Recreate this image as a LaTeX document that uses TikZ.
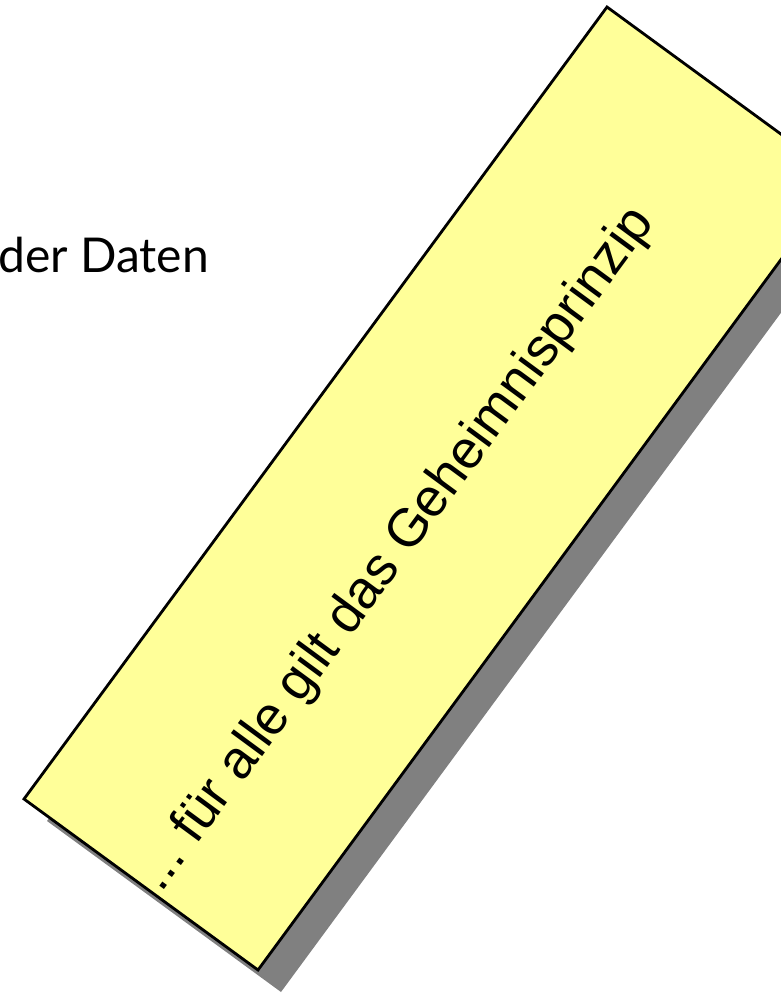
\documentclass[tikz,border=0pt]{standalone}
\usepackage{fontspec}
\setmainfont{Liberation Sans}
\newfontfamily\latofont{Lato}
\definecolor{noteyellow}{HTML}{FFFF99}
\definecolor{noteshadow}{HTML}{808080}
\begin{document}
\begin{tikzpicture}[x=1pt,y=-1pt,
  notebox/.style={fill=noteyellow,draw=black,line width=2.8pt,line join=miter},
  noteshade/.style={fill=noteshadow,draw=none},
  notetext/.style={font=\fontsize{53.6}{60}\selectfont,inner sep=0pt,anchor=base west,rotate=53.64},
  sidetext/.style={font=\latofont\fontsize{48}{56}\selectfont,inner sep=0pt,anchor=base east}]
\useasboundingbox (0,0) rectangle (781,995);
\coordinate (A) at (24,799);
\coordinate (B) at (607,7);
\coordinate (C) at (841,178);
\coordinate (D) at (258,970);
\fill[noteshade] ([shift={(23,22)}]A) -- ([shift={(23,22)}]B) -- ([shift={(23,22)}]C) -- ([shift={(23,22)}]D) -- cycle;
\draw[notebox] (A) -- (B) -- (C) -- (D) -- cycle;
\node[notetext] (note) at (161,894) {...\ für alle gilt das Geheimnisprinzip};
\node[sidetext] (daten) at (209,272) {der Daten};
\end{tikzpicture}
\end{document}
